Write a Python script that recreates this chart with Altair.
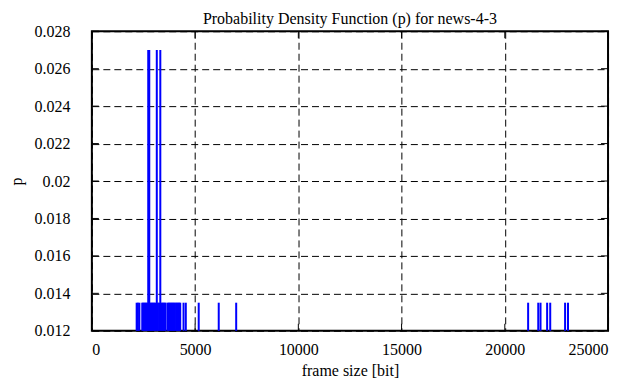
import altair as alt
import pandas as pd

frame_size = [2170, 2230, 2300,
              2440, 2490, 2540, 2590, 2640, 2690, 2730, 2780, 2830, 2880, 2930, 2980,
              3030, 3080, 3145, 3200, 3260, 3315, 3370, 3420, 3470, 3520, 3570,
              3670, 3720, 3770, 3820, 3870, 3920, 3970, 4020, 4080, 4130, 4180, 4230, 4280,
              4440, 4550,
              5175, 6145, 6990,
              21130, 21620, 21730, 22050, 22200, 22920, 23060]
prob = [0.0135, 0.0135, 0.0135,
        0.0135, 0.0135, 0.0135, 0.0135, 0.0135, 0.0135, 0.027, 0.027, 0.0135, 0.0135, 0.0135, 0.0135,
        0.0135, 0.0135, 0.027, 0.0135, 0.0135, 0.027, 0.0135, 0.0135, 0.0135, 0.0135, 0.0135,
        0.0135, 0.0135, 0.0135, 0.0135, 0.0135, 0.0135, 0.0135, 0.0135, 0.0135, 0.0135, 0.0135, 0.0135, 0.0135,
        0.0135, 0.0135,
        0.0135, 0.0135, 0.0135,
        0.0135, 0.0135, 0.0135, 0.0135, 0.0135, 0.0135, 0.0135]

x_ticks = [0, 5000, 10000, 15000, 20000, 25000]
y_ticks = [0.012, 0.014, 0.016, 0.018, 0.02, 0.022, 0.024, 0.026, 0.028]

df = pd.DataFrame({"size": frame_size, "p": prob})
xt = pd.DataFrame({"size": x_ticks})
yt = pd.DataFrame({"p": y_ticks})

FONT = "Liberation Serif"
W, H = 517, 300

xscale = alt.Scale(domain=[0, 25000], nice=False)
yscale = alt.Scale(domain=[0.012, 0.028], nice=False, zero=False)
xaxis = alt.Axis(values=x_ticks, format="d", title="frame size [bit]",
                 labelPadding=11, titlePadding=5)
yaxis = alt.Axis(values=y_ticks, format="~g", title="p",
                 labelPadding=22, titlePadding=9)

bars = alt.Chart(df).mark_rule(color="#0000ff", strokeWidth=2).encode(
    x=alt.X("size:Q", scale=xscale, axis=xaxis),
    y=alt.Y("p:Q", scale=yscale, axis=yaxis),
    y2=alt.datum(0.012),
)

tick_top = alt.Chart(xt).mark_rule(color="black", strokeWidth=1).encode(
    x=alt.X("size:Q", scale=xscale, axis=xaxis), y=alt.value(0), y2=alt.value(7))
tick_bot = alt.Chart(xt).mark_rule(color="black", strokeWidth=1).encode(
    x=alt.X("size:Q", scale=xscale, axis=xaxis), y=alt.value(H - 7), y2=alt.value(H))
tick_left = alt.Chart(yt).mark_rule(color="black", strokeWidth=1).encode(
    y=alt.Y("p:Q", scale=yscale, axis=yaxis), x=alt.value(0), x2=alt.value(7))
tick_right = alt.Chart(yt).mark_rule(color="black", strokeWidth=1).encode(
    y=alt.Y("p:Q", scale=yscale, axis=yaxis), x=alt.value(W - 7), x2=alt.value(W))

chart = alt.layer(bars, tick_top, tick_bot, tick_left, tick_right).properties(
    width=W, height=H,
    background="white",
    title=alt.TitleParams("Probability Density Function (p) for news-4-3",
                          font=FONT, fontSize=16, fontWeight="normal", offset=-4),
    autosize=alt.AutoSizeParams(type="none"),
    padding={"left": 84, "top": 23, "right": 20, "bottom": 48},
).configure_view(
    stroke="black", strokeWidth=2
).configure_axis(
    domain=False, ticks=False, grid=True, gridColor="black", gridDash=[7, 4],
    gridWidth=1, gridOpacity=1,
    labelFont=FONT, labelFontSize=16, labelColor="black",
    titleFont=FONT, titleFontSize=16, titleFontWeight="normal", titleColor="black",
)

chart.save("out.html", embed_options={"renderer": "svg", "actions": False})
